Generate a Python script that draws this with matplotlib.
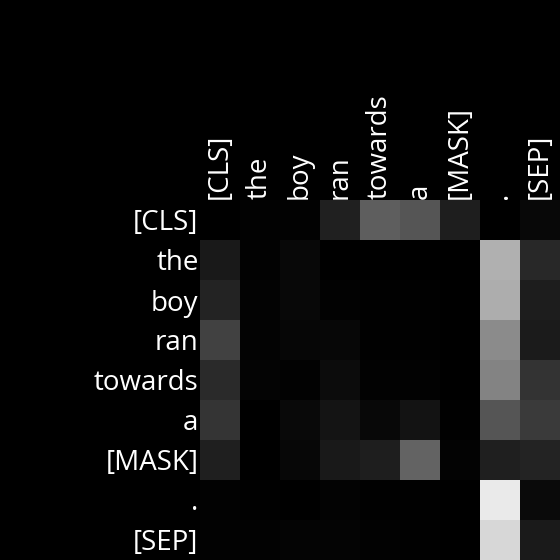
import numpy as np
import matplotlib
matplotlib.use("Agg")
import matplotlib.pyplot as plt

tokens = ["[CLS]", "the", "boy", "ran", "towards", "a", "[MASK]", ".", "[SEP]"]

# attention weights (read as gray level / 255)
row_cls = [0x00, 0x02, 0x02, 0x21, 0x5e, 0x55, 0x1e, 0x00, 0x08]
row_the = [0x19, 0x02, 0x08, 0x00, 0x00, 0x00, 0x00, 0xb0, 0x29]
row_boy = [0x23, 0x03, 0x08, 0x02, 0x01, 0x01, 0x00, 0xad, 0x1d]
row_ran = [0x42, 0x03, 0x06, 0x07, 0x01, 0x01, 0x00, 0x8b, 0x1b]
row_towards = [0x2a, 0x04, 0x02, 0x0c, 0x02, 0x02, 0x00, 0x83, 0x33]
row_a = [0x35, 0x00, 0x09, 0x14, 0x08, 0x13, 0x01, 0x55, 0x3a]
row_mask = [0x1f, 0x00, 0x07, 0x19, 0x1e, 0x63, 0x03, 0x1f, 0x23]
row_dot = [0x02, 0x01, 0x00, 0x03, 0x01, 0x01, 0x00, 0xea, 0x0a]
row_sep = [0x02, 0x02, 0x04, 0x04, 0x02, 0x01, 0x00, 0xd7, 0x1a]

att = np.array([row_cls, row_the, row_boy, row_ran, row_towards,
                row_a, row_mask, row_dot, row_sep]) / 255.0

plt.rcParams['font.family'] = ['Open Sans', 'DejaVu Sans']

fig = plt.figure(figsize=(5.6, 5.6), dpi=100, facecolor='black')
ax = fig.add_axes([200/560, 0, 360/560, 360/560])
ax.imshow(att, cmap='gray', vmin=0, vmax=1, aspect='auto', interpolation='nearest')

ax.set_xticks(range(len(tokens)))
ax.set_yticks(range(len(tokens)))
ax.set_xticklabels(tokens, rotation=90, color='white', fontsize=20)
ax.set_yticklabels(tokens, color='white', fontsize=20)
ax.xaxis.tick_top()
ax.tick_params(length=0, pad=1)
for s in ax.spines.values():
    s.set_visible(False)

fig.savefig("out.png", dpi=100, facecolor='black')
